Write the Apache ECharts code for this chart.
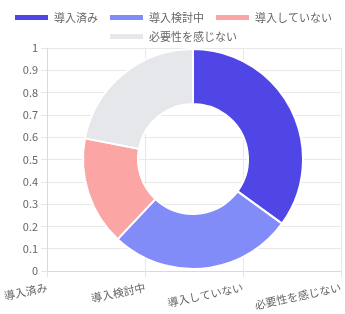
<!DOCTYPE html>
<html><head><meta charset="utf-8">
<script src="https://cdn.jsdelivr.net/npm/echarts@6/dist/echarts.min.js"></script>
<style>html,body{margin:0;padding:0;background:#fff}#c{width:345px;height:314px}</style>
</head><body><div id="c"></div>
<script>
const categories = ['導入済み', '導入検討中', '導入していない', '必要性を感じない'];
const values = [35, 27, 16, 22];
const colors = ['#4f46e5', '#818cf8', '#fca5a5', '#e5e7eb'];
const yTicks = { min: 0, max: 1, interval: 0.1 };

const font = '"Noto Sans CJK JP", "Noto Sans", sans-serif';
const chart = echarts.init(document.getElementById('c'), null, { renderer: 'canvas' });
const legendCommon = {
  itemWidth: 35, itemHeight: 7, itemGap: 10, icon: 'rect',
  textStyle: { fontSize: 11, color: '#666', fontFamily: font },
  selectedMode: false
};
chart.setOption({
  animation: false,
  color: colors,
  legend: [
    Object.assign({ data: categories.slice(0, 3), left: 'center', top: 7 }, legendCommon),
    Object.assign({ data: categories.slice(3), left: 'center', top: 26 }, legendCommon)
  ],
  grid: { left: 44, right: 4, top: 48, bottom: 43, containLabel: false },
  xAxis: {
    type: 'category', data: categories, boundaryGap: false,
    axisLine: { show: true, lineStyle: { color: '#d9d9d9' } },
    axisTick: { show: true, length: 6, lineStyle: { color: '#e5e5e5' } },
    splitLine: { show: true, lineStyle: { color: '#e8e8e8' } },
    axisLabel: { rotate: 12, fontSize: 11, color: '#666', fontFamily: font, margin: 16, interval: 0 }
  },
  yAxis: {
    type: 'value', min: yTicks.min, max: yTicks.max, interval: yTicks.interval,
    axisLine: { show: true, lineStyle: { color: '#d9d9d9' } },
    axisTick: { show: true, length: 6, lineStyle: { color: '#e5e5e5' } },
    splitLine: { show: true, lineStyle: { color: '#e8e8e8' } },
    axisLabel: { fontSize: 11, color: '#666', fontFamily: font, margin: 9 }
  },
  series: [{
    type: 'pie', center: [193, 159], radius: [55, 110],
    startAngle: 90, clockwise: true,
    label: { show: false }, labelLine: { show: false },
    emphasis: { disabled: true },
    itemStyle: { borderColor: '#fff', borderWidth: 2 },
    data: categories.map((n, i) => ({ name: n, value: values[i] }))
  }]
});
</script></body></html>
